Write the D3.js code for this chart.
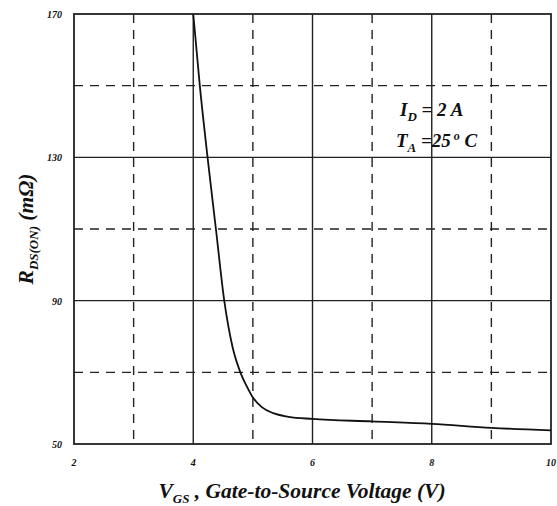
<!DOCTYPE html>
<html>
<head>
<meta charset="utf-8">
<script src="https://cdn.jsdelivr.net/npm/d3@7"></script>
<style>
  body { margin: 0; background: #fff; }
  text { font-family: "Liberation Serif", "DejaVu Serif", serif; font-style: italic; font-weight: bold; fill: #111; }
</style>
</head>
<body>
<div class="chart"></div>
<script>
// Curve: VGS (V) vs RDS(on) (mOhm)
var vgs  = [4.0, 4.11, 4.24, 4.38, 4.52, 4.66, 4.79, 4.9, 5.0, 5.15, 5.34, 5.6, 6.0, 7.0, 8.0, 9.0, 10.0];
var rdson = [170, 150, 130, 110, 90, 77, 70, 66, 63, 60.3, 58.6, 57.6, 57.0, 56.3, 55.6, 54.5, 53.8];

var xTicks = [2, 4, 6, 8, 10];
var yTicks = [50, 90, 130, 170];
var xDashed = [3, 5, 7, 9];
var yDashed = [70, 110, 150];

var svgWidth = 557;
var svgHeight = 506;
var margin = { top: 14, bottom: 62, left: 74, right: 6 };
var width = svgWidth - margin.left - margin.right;
var height = svgHeight - margin.top - margin.bottom;

var svg = d3.select(".chart")
            .append("svg")
            .attr("width", svgWidth)
            .attr("height", svgHeight);

var chartGroup = svg.append("g")
                    .attr("transform", `translate(${margin.left}, ${margin.top})`);

var x = d3.scaleLinear().domain([2, 10]).range([0, width]);
var y = d3.scaleLinear().domain([50, 170]).range([height, 0]);

// Grid lines: solid on major ticks, dashed between
chartGroup.selectAll(".vsolid")
          .data(xTicks.slice(1, -1))
          .enter().append("line")
          .attr("x1", d => x(d)).attr("x2", d => x(d))
          .attr("y1", 0).attr("y2", height)
          .attr("stroke", "#222").attr("stroke-width", 1.4);
chartGroup.selectAll(".vdash")
          .data(xDashed)
          .enter().append("line")
          .attr("x1", d => x(d)).attr("x2", d => x(d))
          .attr("y1", 0).attr("y2", height)
          .attr("stroke", "#222").attr("stroke-width", 1.4)
          .attr("stroke-dasharray", "9,7");
chartGroup.selectAll(".hsolid")
          .data(yTicks.slice(1, -1))
          .enter().append("line")
          .attr("x1", 0).attr("x2", width)
          .attr("y1", d => y(d)).attr("y2", d => y(d))
          .attr("stroke", "#222").attr("stroke-width", 1.4);
chartGroup.selectAll(".hdash")
          .data(yDashed)
          .enter().append("line")
          .attr("x1", 0).attr("x2", width)
          .attr("y1", d => y(d)).attr("y2", d => y(d))
          .attr("stroke", "#222").attr("stroke-width", 1.4)
          .attr("stroke-dasharray", "9,7");

// Frame
chartGroup.append("rect")
          .attr("width", width).attr("height", height)
          .attr("fill", "none").attr("stroke", "#222").attr("stroke-width", 1.8);

// Tick labels
chartGroup.selectAll(".xlab")
          .data(xTicks)
          .enter().append("text")
          .attr("x", d => x(d)).attr("y", height + 22)
          .attr("text-anchor", "middle")
          .style("font-size", "10px")
          .text(d => d);
chartGroup.selectAll(".ylab")
          .data(yTicks)
          .enter().append("text")
          .attr("x", -12).attr("y", d => y(d) + 4)
          .attr("text-anchor", "end")
          .style("font-size", "10px")
          .text(d => d);

// Curve
var pts = vgs.map((v, i) => [v, rdson[i]]);
chartGroup.append("path")
          .datum(pts)
          .attr("d", d3.line().x(d => x(d[0])).y(d => y(d[1])).curve(d3.curveMonotoneX))
          .attr("fill", "none")
          .attr("stroke", "#111")
          .attr("stroke-width", 1.8);

// Annotations
var ann = chartGroup.append("text")
                    .attr("x", 326).attr("y", 102)
                    .style("font-size", "19px");
ann.append("tspan").text("I");
ann.append("tspan").attr("dy", 5).style("font-size", "13px").text("D");
ann.append("tspan").attr("dy", -5).text(" = 2 A");

var ann2 = chartGroup.append("text")
                     .attr("x", 322).attr("y", 133)
                     .style("font-size", "19px");
ann2.append("tspan").text("T");
ann2.append("tspan").attr("dy", 5).style("font-size", "13px").text("A");
ann2.append("tspan").attr("dy", -5).text(" =25");
ann2.append("tspan").attr("dy", -7).style("font-size", "12px").text(" o");
ann2.append("tspan").attr("dy", 7).text(" C");

// X axis title
var xt = svg.append("text")
            .attr("x", 302).attr("y", 498)
            .attr("text-anchor", "middle")
            .style("font-size", "21.5px");
xt.append("tspan").text("V");
xt.append("tspan").attr("dy", 5).style("font-size", "13px").text("GS");
xt.append("tspan").attr("dy", -5).text(" , Gate-to-Source Voltage (V)");

// Y axis title
var yt = svg.append("text")
            .attr("transform", "translate(33, 229) rotate(-90)")
            .attr("text-anchor", "middle")
            .style("font-size", "21.5px");
yt.append("tspan").text("R");
yt.append("tspan").attr("dy", 5).style("font-size", "13px").text("DS(ON)");
yt.append("tspan").attr("dy", -5).text(" (m\u03A9)");
</script>
</body>
</html>
